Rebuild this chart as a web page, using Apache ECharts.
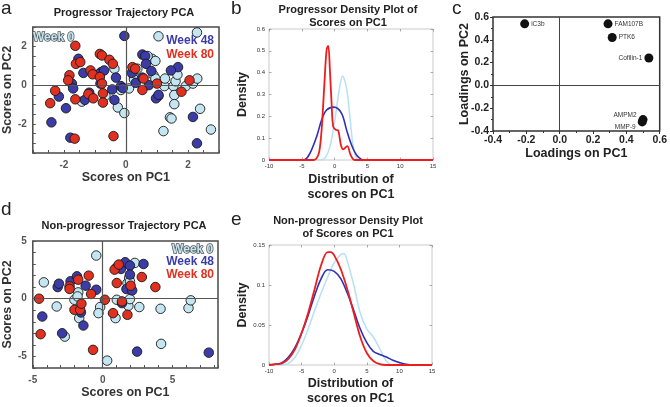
<!DOCTYPE html>
<html><head><meta charset="utf-8">
<script src="https://cdn.jsdelivr.net/npm/echarts@6/dist/echarts.min.js"></script>
<style>html,body{margin:0;padding:0;background:#fff}#c{width:670px;height:407px}</style>
</head><body><div id="c"></div>
<script>
// ---------- DATA ----------
// Panel a: Progressor trajectory PCA (PC1, PC2)
const progWeek0 = [[2.29,2.72],[1.05,2.52],[-0.37,0.85],[-0.26,-1.15],[-0.05,-1.44],[-0.66,-0.54],[-1.42,-0.85],[0.1,-0.17],[0.37,0.85],[0.26,0.42],[0.26,0.3],[0.84,1.36],[0.95,1.25],[0.89,0.51],[0.95,0.34],[1.05,-0.56],[1.24,-0.05],[1.26,0.34],[1.53,-0.05],[1.56,-0.51],[1.56,-0.98],[1.6,0.2],[1.66,0.54],[1.42,-1.66],[1.47,-1.72],[1.21,-2.37],[1.93,-0.05],[2.16,0.08],[2.3,0.34],[2.39,-1.22],[2.74,-2.29],[-0.16,-0.25],[0.7,1.5]];
const progWeek48 = [[-0.05,2.54],[-1.53,1.36],[-1.37,0.63],[-1.74,0.08],[-1.7,-0.17],[-2.16,-0.59],[-1.93,-1.19],[-2.4,-1.92],[-1.79,-2.71],[-1.32,-0.76],[-1.18,-0.39],[-0.79,0.68],[-0.86,0.58],[-0.7,0.76],[-0.82,0.08],[-0.44,-0.22],[-0.32,0.39],[-0.37,-0.76],[-0.16,-0.05],[-0.1,-0.15],[0.53,1.58],[0.62,1.5],[0.65,1.1],[0.19,0.63],[0.32,0.12],[0.53,0.39],[0.74,0.0],[0.82,0.73],[0.97,-0.68],[1.05,-0.5],[1.68,0.93],[1.45,0.76],[2.16,-1.64],[2.29,-3.0]];
const progWeek80 = [[-1.63,2.03],[-2.44,-0.93],[-2.28,-0.29],[-1.82,0.51],[-1.86,0.25],[-1.61,1.1],[-1.47,1.19],[-1.63,-0.73],[-1.65,-2.76],[-1.14,0.76],[-1.07,0.56],[-1.21,-0.46],[-1.05,-0.68],[-0.84,1.61],[-0.77,1.53],[-0.84,0.42],[-0.77,0.08],[-0.74,-0.42],[-0.74,-0.9],[-0.53,1.31],[-0.42,1.1],[-0.4,-2.63],[0.21,0.93],[0.3,0.85],[0.57,0.34],[0.53,-0.25],[1.0,0.08],[1.79,-0.34],[2.05,0.25]];

// Panel b: progressor density of PC1 scores [score, density]
const progDensW0 = [[-10,0],[-2.5,0],[-1.48,0.008],[-0.72,0.061],[0.04,0.183],[0.7,0.321],[1.21,0.385],[1.82,0.329],[2.33,0.199],[2.84,0.061],[3.35,0.008],[4,0],[15,0]];
const progDensW48 = [[-10,0],[-5,0],[-4.5,0.002],[-3.76,0.03],[-2.74,0.107],[-1.98,0.183],[-1.22,0.229],[-0.1,0.242],[1.06,0.214],[1.82,0.138],[2.58,0.069],[3.34,0.023],[4.1,0.003],[4.6,0],[15,0]];
const progDensW80 = [[-10,0],[-3.2,0],[-2.74,0.008],[-2.34,0.038],[-1.98,0.138],[-1.58,0.336],[-1.22,0.505],[-0.97,0.523],[-0.72,0.413],[-0.46,0.26],[-0.21,0.153],[0.2,0.138],[0.55,0.135],[0.96,0.069],[1.3,0.049],[1.92,0.064],[2.43,0.023],[2.84,0.003],[3.2,0],[15,0]];

// Panel c: loadings
const loadNames = ['iC3b','FAM107B','PTK6','Cofilin-1','AMPM2','MMP-9'];
const loadPC1 = [-0.21,0.29,0.315,0.535,0.5,0.495];
const loadPC2 = [0.54,0.54,0.42,0.24,-0.3,-0.32];

// Panel d: Non-progressor trajectory PCA
const nonWeek0 = [[-4.21,1.42],[-3.29,-0.67],[-2.71,-3.28],[-2.02,-0.09],[-1.75,0.55],[-1.8,0.2],[-1.68,-1.68],[-0.46,3.74],[-0.18,-0.72],[-0.3,-1.25],[0.32,-5.36],[1.01,-0.09],[0.92,-1.68],[1.77,1.36],[1.89,1.8],[1.95,1.5],[2.3,3.1],[1.84,-0.61],[1.95,-0.03],[2.62,-0.72],[4.14,-0.87],[4.18,-3.91],[6.14,-0.81],[6.3,-0.14]];
const nonWeek48 = [[-4.32,-1.54],[-3.22,1.01],[-3.13,1.3],[-2.9,-2.99],[-2.3,1.51],[-1.84,1.94],[-1.56,-1.19],[-1.38,-2.32],[-1.22,1.13],[-0.46,0.78],[0.97,2.67],[1.31,2.58],[1.61,3.16],[1.95,2.87],[2.92,3.01],[1.95,2.09],[1.7,0.84],[2.11,0.72],[1.38,-0.38],[2.46,-4.58],[7.59,-4.67]];
const nonWeek80 = [[-4.55,0],[-4.44,-3.07],[-2.37,1.07],[-2.37,0.85],[-1.75,1.65],[-2.02,-0.96],[-1.61,-0.96],[-1.52,-0.43],[-1.0,2.0],[-0.83,0.41],[-0.69,-4.43],[0.16,-0.09],[0.85,2.52],[1.15,2.96],[1.01,1.36],[0.74,-1.25],[1.38,-0.23],[1.77,-1.39],[2.0,1.13],[2.8,1.88],[3.77,1.01]];

// Panel e: non-progressor density of PC1 scores
const nonDensW0 = [[-10,0],[-8,0],[-7,0.002],[-6,0.01],[-5,0.025],[-4,0.045],[-3,0.068],[-2,0.09],[-1,0.11],[0,0.128],[1,0.138],[1.5,0.139],[2,0.13],[3,0.1],[4,0.065],[5,0.045],[6,0.035],[7,0.02],[8,0.005],[9,0],[15,0]];
const nonDensW48 = [[-10,0],[-9,0.001],[-8,0.003],[-7,0.01],[-6,0.022],[-5,0.04],[-4,0.062],[-3,0.087],[-2,0.108],[-1,0.119],[0,0.117],[1,0.108],[2,0.09],[3,0.068],[4,0.045],[5,0.028],[6,0.017],[7,0.013],[8,0.01],[9,0.006],[10,0.003],[11,0.001],[12,0],[15,0]];
const nonDensW80 = [[-10,0],[-9,0.001],[-8,0.002],[-7,0.008],[-6,0.02],[-5,0.04],[-4,0.065],[-3,0.095],[-2,0.125],[-1,0.141],[-0.5,0.141],[0,0.137],[1,0.12],[2,0.095],[3,0.065],[4,0.035],[5,0.015],[6,0.005],[7,0.001],[8,0],[15,0]];

// Tick labels
const pcaTicksA = [-2,0,2];
const pcaTicksD = [-5,0,5];

// ---------- STYLE ----------
const FONT = 'Liberation Sans, Arial, sans-serif';
const C0 = '#c3e6f2', C48 = '#3b3ca8', C80 = '#e1301f';
const D0 = '#b6e1f3', D48 = '#2f2fb5', D80 = '#ee1d1d';

const chart = echarts.init(document.getElementById('c'), null, {renderer:'canvas'});

function pcaX(grid, min, max, interval, ticks, name, gap){
  return {type:'value', gridIndex:grid, min, max, interval,
    axisLine:{show:false, onZero:false}, splitLine:{show:false},
    axisTick:{inside:true, length:3, lineStyle:{color:'#555', width:1}},
    axisLabel:{formatter:v=>ticks.some(t=>Math.abs(t-v)<1e-9)?String(Math.round(v)):'', fontFamily:FONT, fontWeight:'bold', fontSize:10, color:'#555', margin:7, showMinLabel:true, showMaxLabel:true},
    name, nameLocation:'middle', nameGap:gap, nameTextStyle:{fontFamily:FONT, fontWeight:'bold', fontSize:12.5, color:'#333'}};
}
function pcaY(grid, min, max, interval, ticks, name, gap){
  const a = pcaX(grid, min, max, interval, ticks, name, gap);
  a.axisLabel.margin = 6;
  return a;
}
function densX(grid, name, gap){
  return {type:'value', gridIndex:grid, min:-10, max:15, interval:5,
    axisLine:{show:false, onZero:false}, splitLine:{show:false},
    axisTick:{inside:true, length:2.5, lineStyle:{color:'#777', width:0.6}},
    axisLabel:{fontFamily:FONT, fontSize:6, color:'#333', margin:3},
    name, nameLocation:'middle', nameGap:gap, nameTextStyle:{fontFamily:FONT, fontWeight:'bold', fontSize:12.5, color:'#222', lineHeight:15}};
}
function mirror(grid, pos, min, max, interval){
  return {type:'value', gridIndex:grid, position:pos, min, max, interval,
    axisLine:{show:false, onZero:false}, splitLine:{show:false},
    axisTick:{inside:true, length:2.5, lineStyle:{color:'#777', width:0.6}},
    axisLabel:{show:false}};
}
function densY(grid, max, interval, fmt, name, gap){
  return {type:'value', gridIndex:grid, min:0, max, interval,
    axisLine:{show:false, onZero:false}, splitLine:{show:false},
    axisTick:{inside:true, length:2.5, lineStyle:{color:'#777', width:0.6}},
    axisLabel:{formatter:fmt, fontFamily:FONT, fontSize:6, color:'#333', margin:4},
    name, nameLocation:'middle', nameGap:gap, nameTextStyle:{fontFamily:FONT, fontWeight:'bold', fontSize:12.5, color:'#222'}};
}
const dec1 = v => Math.abs(v)<1e-9 ? '0.0' : v.toFixed(1);
function loadAxis(grid, name, gap, margin){
  return {type:'value', gridIndex:grid, min:-0.4, max:0.6, interval:0.2,
    axisLine:{show:false, onZero:false}, splitLine:{show:false},
    axisTick:{show:true, inside:false, length:3, lineStyle:{color:'#333', width:1}},
    minorTick:{show:true, splitNumber:2, length:2, lineStyle:{color:'#333'}},
    axisLabel:{formatter:dec1, fontFamily:FONT, fontWeight:'bold', fontSize:10.5, color:'#222', margin},
    name, nameLocation:'middle', nameGap:gap, nameMoveOverlap:false,
    nameTextStyle:{fontFamily:FONT, fontWeight:'bold', fontSize:12.5, color:'#222'}};
}

const cross = (color,width) => ({silent:true, symbol:'none', label:{show:false}, animation:false,
  lineStyle:{color, width, type:'solid'}, emphasis:{disabled:true}, data:[{xAxis:0},{yAxis:0}]});

function scat(name, data, x, y, color, withCross){
  const s = {name, type:'scatter', xAxisIndex:x, yAxisIndex:y, data, symbolSize:9.5,
    itemStyle:{color, borderColor:'#1a1a1a', borderWidth:0.9, opacity:1}, z:3};
  if (withCross) s.markLine = cross('#555', 1.2);
  return s;
}
function dens(name, data, x, y, color, w, z){
  return {name, type:'line', xAxisIndex:x, yAxisIndex:y, data, smooth:0.35, showSymbol:false,
    lineStyle:{color, width:w}, itemStyle:{color}, z};
}

// label placement for loadings (style only)
const loadLabelPos = {'Cofilin-1':['left',[0,0]], 'AMPM2':['left',[0,-4]], 'MMP-9':['left',[0,5]]};
const loadData = loadNames.map((n,i)=>{
  const p = loadLabelPos[n] || ['right',[0,0]];
  return {name:n, value:[loadPC1[i], loadPC2[i]], label:{position:p[0], offset:p[1]}};
});

const legTxt = (color, border) => ({fontFamily:FONT, fontWeight:'bold', fontSize:12, color,
  textBorderColor: border||'transparent', textBorderWidth: border?1.5:0});
function leg(name, color, border, right, top){
  return {data:[{name, icon:'none', textStyle:legTxt(color,border)}], right, top, itemWidth:0, itemHeight:0, itemGap:0, padding:0, selectedMode:false};
}

const titleStyle = {fontFamily:FONT, fontWeight:'bold', fontSize:11, color:'#222', lineHeight:13};
const letterStyle = {fontFamily:FONT, fontWeight:'normal', fontSize:19, color:'#222'};

chart.setOption({
  animation:false,
  backgroundColor:'#fff',
  title:[
    {text:'a', left:1, top:-1, padding:0, textStyle:letterStyle},
    {text:'b', left:231, top:-1, padding:0, textStyle:letterStyle},
    {text:'c', left:452, top:-1, padding:0, textStyle:letterStyle},
    {text:'d', left:1, top:200, padding:0, textStyle:letterStyle},
    {text:'e', left:231, top:210, padding:0, textStyle:letterStyle},
    {text:'Progressor Trajectory PCA', left:124, top:6, padding:0, textAlign:'center', textStyle:titleStyle},
    {text:'Progressor Density Plot of\nScores on PC1', left:348, top:3, padding:0, textAlign:'center', textStyle:titleStyle},
    {text:'Non-progressor Trajectory PCA', left:124, top:219, padding:0, textAlign:'center', textStyle:titleStyle},
    {text:'Non-progressor Density Plot\nof Scores on PC1', left:348, top:214, padding:0, textAlign:'center', textStyle:titleStyle}
  ],
  legend:[
    {data:[{name:'Week 0', icon:'none', textStyle:legTxt(C0,'#555')}], left:28, top:31, itemWidth:0, itemHeight:0, padding:0, selectedMode:false},
    leg('Week 48', C48, null, 456, 35),
    leg('Week 80', C80, null, 456, 49),
    leg('Week 0', C0, '#555', 456, 243),
    leg('Week 48', C48, null, 456, 256),
    leg('Week 80', C80, null, 456, 269)
  ],
  grid:[
    {left:28, top:27, width:191, height:126, show:true, borderColor:'#4a4a4a', borderWidth:1.5},
    {left:269, top:29, width:164, height:131, show:true, borderColor:'#bdbdbd', borderWidth:0.8},
    {left:493, top:17, width:171, height:114, show:true, borderColor:'#333', borderWidth:1.5},
    {left:27, top:241, width:191, height:127, show:true, borderColor:'#4a4a4a', borderWidth:1.5},
    {left:269, top:245, width:163, height:129, show:true, borderColor:'#bdbdbd', borderWidth:0.8}
  ],
  xAxis:[
    pcaX(0, -3, 3, 0.5, pcaTicksA, 'Scores on PC1', 17),
    densX(1, 'Distribution of\nscores on PC1', 12),
    mirror(1, 'top', -10, 15, 5),
    loadAxis(2, 'Loadings on PC1', 16, 4),
    pcaX(3, -5, 8.25, 1, pcaTicksD, 'Scores on PC1', 18),
    densX(4, 'Distribution of\nscores on PC1', 11),
    mirror(4, 'top', -10, 15, 5)
  ],
  yAxis:[
    pcaY(0, -3.5, 3, 0.5, pcaTicksA, 'Scores on PC2', 16),
    densY(1, 0.6, 0.1, v=>String(+v.toFixed(1)), 'Density', 20),
    mirror(1, 'right', 0, 0.6, 0.1),
    loadAxis(2, 'Loadings on PC2', 22, 4),
    pcaY(3, -6, 5, 1, pcaTicksD, 'Scores on PC2', 17),
    densY(4, 0.15, 0.05, v=>String(+v.toFixed(2)), 'Density', 20),
    mirror(4, 'right', 0, 0.15, 0.05)
  ],
  series:[
    scat('Week 0', progWeek0, 0, 0, C0, true),
    scat('Week 48', progWeek48, 0, 0, C48, false),
    scat('Week 80', progWeek80, 0, 0, C80, false),
    dens('Week 0', progDensW0, 1, 1, D0, 1.5, 2),
    dens('Week 48', progDensW48, 1, 1, D48, 1.6, 3),
    dens('Week 80', progDensW80, 1, 1, D80, 1.8, 4),
    {name:'Loadings', type:'scatter', xAxisIndex:3, yAxisIndex:3, data:loadData, symbolSize:9,
      itemStyle:{color:'#111', opacity:1},
      label:{show:true, formatter:p=>p.name, fontFamily:FONT, fontSize:6.5, color:'#333', distance:2},
      markLine:cross('#444', 1)},
    scat('Week 0', nonWeek0, 4, 4, C0, true),
    scat('Week 48', nonWeek48, 4, 4, C48, false),
    scat('Week 80', nonWeek80, 4, 4, C80, false),
    dens('Week 0', nonDensW0, 5, 5, D0, 1.5, 2),
    dens('Week 48', nonDensW48, 5, 5, D48, 1.6, 3),
    dens('Week 80', nonDensW80, 5, 5, D80, 1.8, 4)
  ]
});
</script></body></html>
